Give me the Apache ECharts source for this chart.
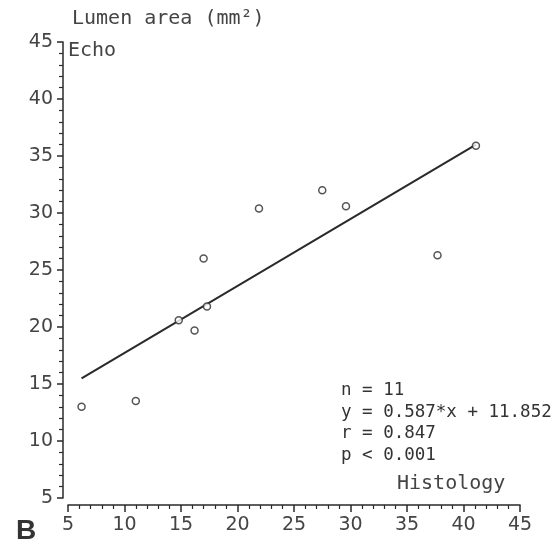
<!DOCTYPE html>
<html>
<head>
<meta charset="utf-8">
<script src="https://cdn.jsdelivr.net/npm/echarts@6/dist/echarts.min.js"></script>
<style>
  html, body { margin: 0; padding: 0; background: #fff; }
  #main { width: 560px; height: 543px; }
</style>
</head>
<body>
<div id="main"></div>
<script>
// histology vs echo lumen area (mm2)
var histology = [6.2, 11.0, 14.8, 16.2, 17.0, 17.3, 21.9, 27.5, 29.6, 37.7, 41.1];
var echo = [13.0, 13.5, 20.6, 19.7, 26.0, 21.8, 30.4, 32.0, 30.6, 26.3, 35.9];
// regression line ends, y = 0.587*x + 11.852
var fitX = [6.2, 41.1];
var fitY = [15.5, 36.0];
var statLines = ['n = 11', 'y = 0.587*x + 11.852', 'r = 0.847', 'p < 0.001'];

var chart = echarts.init(document.getElementById('main'), null, { renderer: 'canvas' });

var ink = '#2a2a2a';
var labelFont = 'DejaVu Sans';

var pts = histology.map(function (x, i) { return [x, echo[i]]; });
var fit = fitX.map(function (x, i) { return [x, fitY[i]]; });

var option = {
  backgroundColor: '#fff',
  animation: false,
  grid: { left: 68, right: 40, top: 42, bottom: 45 },
  xAxis: {
    type: 'value',
    min: 5, max: 45, interval: 5,
    offset: 7,
    axisLine: { show: true, lineStyle: { color: ink, width: 1.5 } },
    axisTick: { show: true, length: 7, lineStyle: { color: ink, width: 1.5 } },
    minorTick: { show: true, splitNumber: 5, length: 4, lineStyle: { color: ink, width: 1.2 } },
    splitLine: { show: false },
    axisLabel: { margin: 11, color: '#444', fontSize: 19, fontFamily: labelFont }
  },
  yAxis: {
    type: 'value',
    min: 5, max: 45, interval: 5,
    offset: 5,
    axisLine: { show: true, lineStyle: { color: ink, width: 1.5 } },
    axisTick: { show: true, length: 6, lineStyle: { color: ink, width: 1.5 } },
    minorTick: { show: true, splitNumber: 5, length: 4, lineStyle: { color: ink, width: 1.2 } },
    splitLine: { show: false },
    axisLabel: { margin: 10, color: '#444', fontSize: 19, fontFamily: labelFont }
  },
  series: [{
    type: 'line',
    data: fit,
    symbol: 'none',
    lineStyle: { color: ink, width: 2 },
    z: 2
  }, {
    type: 'scatter',
    data: pts,
    symbol: 'circle',
    symbolSize: 7,
    itemStyle: { color: '#fff', borderColor: ink, borderWidth: 1.5 },
    z: 3
  }],
  graphic: [
    { type: 'text', left: 72, top: 9, style: { text: 'Lumen area (mm²)', font: '20px "DejaVu Sans Mono"', fill: '#444' } },
    { type: 'text', left: 68, top: 41, style: { text: 'Echo', font: '20px "DejaVu Sans Mono"', fill: '#444' } },
    { type: 'text', left: 397, top: 474, style: { text: 'Histology', font: '20px "DejaVu Sans Mono"', fill: '#444' } },
    { type: 'text', left: 341, top: 380, style: { text: statLines.join('\n'), font: '17.5px "DejaVu Sans Mono"', lineHeight: 21.5, fill: '#333' } },
    { type: 'text', left: 16, top: 517, style: { text: 'B', font: 'bold 28px "Liberation Sans"', fill: '#333' } }
  ]
};

chart.setOption(option);
</script>
</body>
</html>
